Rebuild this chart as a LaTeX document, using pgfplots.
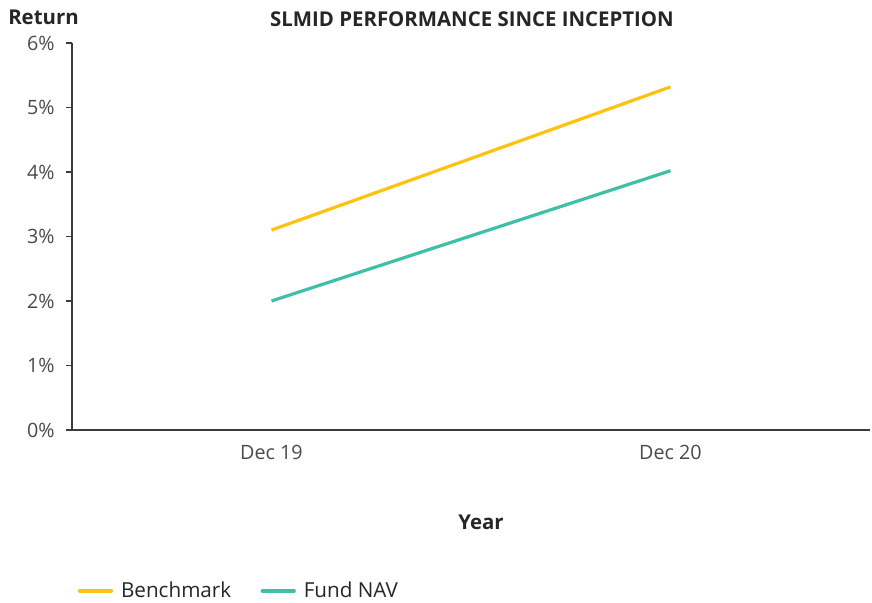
\documentclass[border=0pt]{standalone}
\usepackage{fontspec}
\setmainfont{Open Sans}
\usepackage{pgfplots}
\pgfplotsset{compat=1.18}
\definecolor{bench}{HTML}{FFC20E}
\definecolor{fund}{HTML}{3EBFA8}
\definecolor{axisgrey}{HTML}{3A3A3A}
\definecolor{labgrey}{HTML}{4A4A4A}
\begin{document}
\begin{tikzpicture}[x=0.75pt,y=0.75pt]
% page frame, 872 x 603 px, axis box starts at (72,430) px
\useasboundingbox (-72,-173) rectangle (800,430);
\begin{axis}[
    at={(0,0)}, anchor=south west,
    scale only axis,
    width=598.5pt, height=290.25pt,
    xmin=-0.5, xmax=1.5,
    ymin=0, ymax=6,
    axis x line*=bottom, axis y line*=left,
    axis line style={axisgrey, line width=0.9pt},
    tick align=outside,
    tick style={axisgrey, line width=0.9pt},
    major tick length=4.5pt,
    ytick={0,1,2,3,4,5,6},
    yticklabel={\pgfmathprintnumber{\tick}\%},
    yticklabel style={font=\fontsize{14.8}{17}\selectfont, text=labgrey, xshift=-5pt},
    xtick={0,1},
    xticklabels={Dec 19, Dec 20},
    x tick style={draw=none},
    xticklabel style={font=\fontsize{14.8}{17}\selectfont, text=labgrey, yshift=-3pt},
    extra x ticks={-0.5,0.5,1.5},
    extra x tick labels={},
    extra x tick style={tick style={axisgrey, line width=0.9pt}},
    /pgf/number format/assume math mode=true,
    legend columns=2,
    legend style={draw=none, fill=none, at={(0.002,-0.416)}, anchor=west,
      font=\fontsize{15.5}{18}\selectfont, text=black!85,
      /tikz/every odd column/.append style={column sep=4pt},
      /tikz/every even column/.append style={column sep=20pt}},
    legend image code/.code={\draw[#1, line width=2.4pt, line cap=round] (0pt,0pt) -- (24pt,0pt);},
    legend cell align=left,
  ]
  \addplot[bench, line width=2.4pt] coordinates {(0,3.10) (1,5.32)};
  \addlegendentry{Benchmark}
  \addplot[fund, line width=2.4pt] coordinates {(0,2.00) (1,4.02)};
  \addlegendentry{Fund NAV}
\end{axis}
\node[font=\fontsize{15.3}{18}\selectfont\bfseries, text=black!85] at (400,411) {SLMID PERFORMANCE SINCE INCEPTION};
\node[font=\fontsize{15.3}{18}\selectfont\bfseries, text=black!85, anchor=west, inner sep=0pt] at (-64,413) {Return};
\node[font=\fontsize{15.3}{18}\selectfont\bfseries, text=black!85] at (409,-92) {Year};
\end{tikzpicture}
\end{document}
